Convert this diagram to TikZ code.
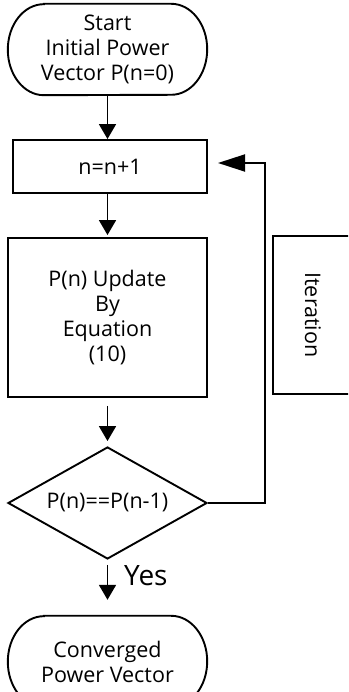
\documentclass[tikz,border=0pt]{standalone}
\usepackage{fontspec}
\setmainfont{Open Sans}
\usetikzlibrary{arrows.meta,shapes.geometric}

% outline of a terminal node: flat top and bottom, elliptic ends
\newcommand{\stadium}[1]{%
  \draw[line] ([xshift=36pt]#1.north west) -- ([xshift=-36pt]#1.north east)
    arc[start angle=90,end angle=-90,x radius=36pt,y radius=45.5pt]
    -- ([xshift=36pt]#1.south west)
    arc[start angle=270,end angle=90,x radius=36pt,y radius=45.5pt] -- cycle;}

\tikzset{
  line/.style={line width=1.9pt},
  txt/.style={font=\fontsize{21.5}{25}\selectfont, align=center, inner sep=0pt},
  term/.style={txt, minimum width=199pt, minimum height=91pt},
  procbox/.style={txt, line, draw, minimum width=199pt},
  decision/.style={txt, line, draw, diamond, aspect=1.78, inner sep=0pt,
    minimum width=199pt, minimum height=112pt},
  flow/.style={line, -{Triangle[length=15pt,width=17pt]}},
  loopflow/.style={line, -{Triangle[length=27pt,width=17pt]}}
}

\begin{document}
\begin{tikzpicture}[x=1pt,y=1pt]
\useasboundingbox (0,0) rectangle (348,692);
\clip (0,0) rectangle (348,692);
\fill[white] (0,0) rectangle (348,692);

% nodes
\node[term] (start) at (107.5,642.5) {Start\\Initial Power\\Vector P(n=0)};
\stadium{start}
\node[procbox, minimum width=194pt, minimum height=53pt] (inc) at (110,525.5) {n=n+1};
\node[procbox, minimum height=159pt] (upd) at (107.5,374.5) {P(n) Update\\By\\Equation\\(10)};
\node[decision] (test) at (107.5,189) {P(n)==P(n-1)};
\node[term] (done) at (107.5,30.5) {Converged\\Power Vector};
\stadium{done}
\node[txt, line, draw, minimum width=80pt, minimum height=158pt] (iter) at (313,377) {};
\node[txt, rotate=-90] (iterlabel) at (313,377) {Iteration};

% main flow
\draw[flow] (start.south) -- (inc.north -| start.south);
\draw[flow, shorten >=2pt] (inc.south -| start.south) -- (upd.north);
\draw[flow, shorten <=8pt, shorten >=5pt] (upd.south) -- (test.north);
\draw[flow, shorten <=5pt, shorten >=16pt] (test.south) -- (done.north);
\node[anchor=base west, font=\fontsize{28}{30}\selectfont, inner sep=0pt] (yes) at (124,106) {Yes};

% feedback loop
\coordinate (corner) at (265,529);
\coordinate (loopend) at (218,529);
\draw[loopflow] (test.east) -| (corner) -- (loopend);
\end{tikzpicture}
\end{document}
